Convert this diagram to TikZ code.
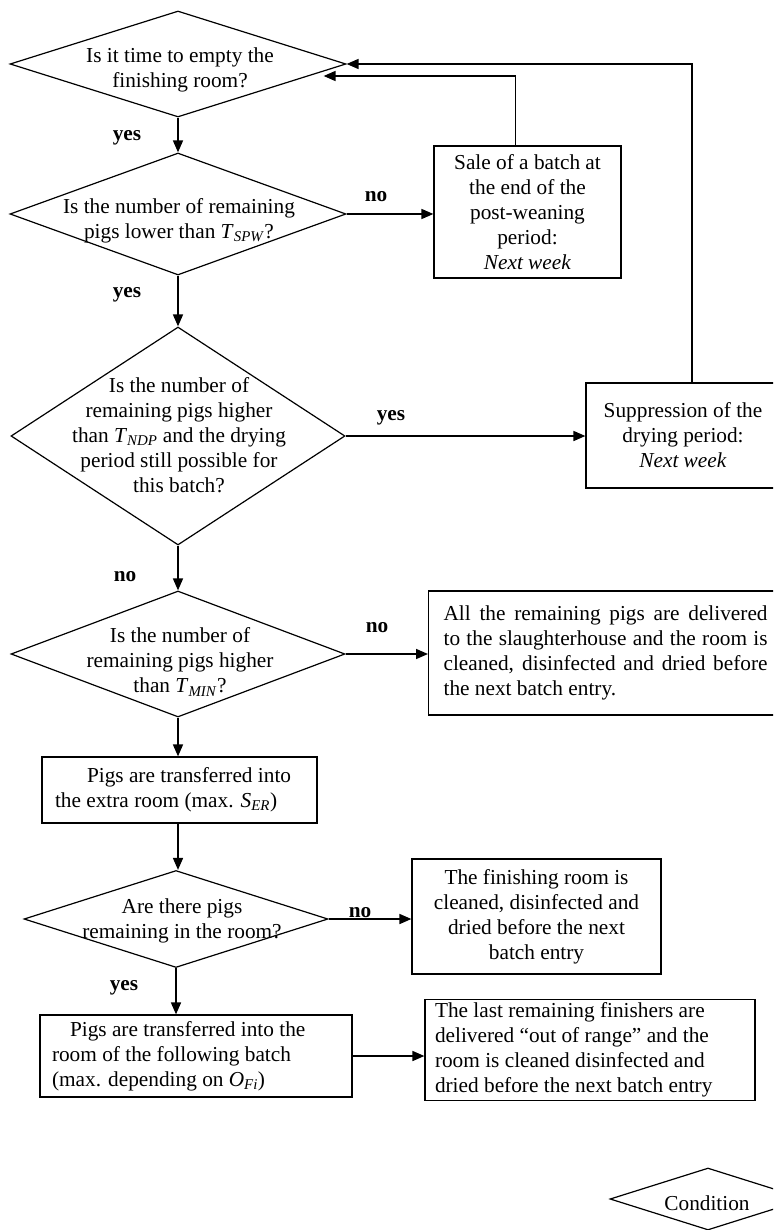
\documentclass[tikz,border=0pt]{standalone}
\usepackage{fontspec}
\setmainfont{Liberation Serif}
\usetikzlibrary{shapes.geometric,arrows.meta,calc}
\newcommand{\sbs}[2]{\textit{#1}\textsubscript{\textit{#2}}}
\begin{document}
\begin{tikzpicture}[x=1pt,y=-1pt,
  font=\fontsize{21.3}{25}\selectfont,
  dia/.style={draw, shape=diamond, inner sep=0pt, line width=1.2pt},
  box/.style={draw, rectangle, line width=1.2pt},
  txt/.style={align=center, inner sep=0pt},
  arr/.style={line width=1.6pt, -{Triangle[length=12pt,width=10pt]}},
  lbl/.style={inner sep=0pt, font=\fontsize{21.3}{25}\selectfont\bfseries}]
\useasboundingbox (0,0) rectangle (773,1230);
\clip (0,0) rectangle (773,1230);

% decisions
\node[dia, minimum width=336pt, minimum height=106pt] (d1) at (178,64) {};
\node[txt] (d1t) at (180,70) {Is it time to empty the\\finishing room?};

\node[dia, minimum width=336pt, minimum height=122pt] (d2) at (178,214) {};
\node[txt] (d2t) at (179,221) {Is the number of remaining\\pigs lower than \sbs{T}{SPW}?};

\node[dia, minimum width=334pt, minimum height=218pt] (d3) at (178,436) {};
\node[txt] (d3t) at (179,435) {Is the number of\\remaining pigs higher\\than \sbs{T}{NDP} and the drying\\period still possible for\\this batch?};

\node[dia, minimum width=334pt, minimum height=126pt] (d4) at (178,654) {};
\node[txt] (d4t) at (180,662) {Is the number of\\remaining pigs higher\\than \sbs{T}{MIN}?};

\node[dia, minimum width=304pt, minimum height=97pt] (d5) at (176,919) {};
\node[txt] (d5t) at (182,921) {Are there pigs\\remaining in the room?};

\node[dia, minimum width=196pt, minimum height=62pt] (cond) at (708,1199) {};
\node[txt] (condt) at (707,1203) {Condition};

% boxes
\node[box, minimum width=187pt, minimum height=132pt, align=center] (sale) at (527.5,212)
  {Sale of a batch at\\the end of the\\post-weaning\\period:\\\textit{Next week}};
\node[box, minimum width=194pt, minimum height=105pt, align=center] (sup) at (683,435.5)
  {Suppression of the\\drying period:\\\textit{Next week}};
\node[box, anchor=west, text width=324pt, inner xsep=15pt, minimum height=124pt, align=justify] (all) at (428,653)
  {All the remaining pigs are delivered\linebreak to the slaughterhouse and the room is\linebreak cleaned, disinfected and dried before\linebreak the next batch entry.};
\node[box, text width=249pt, inner xsep=13pt, minimum height=66pt, align=flush left] (ex) at (179.5,790)
  {\hspace*{32pt}Pigs are transferred into\\the extra room (max. \sbs{S}{ER})};
\node[box, minimum width=249pt, minimum height=115pt, align=center] (fin) at (536.5,916.5)
  {The finishing room is\\cleaned, disinfected and\\dried before the next\\batch entry};
\node[box, text width=288pt, inner xsep=12pt, minimum height=82pt, align=flush left] (fol) at (196,1056)
  {\hspace*{18pt}Pigs are transferred into the\\room of the following batch\\(max. depending on \sbs{O}{Fi})};
\node[box, text width=310pt, inner xsep=10pt, minimum height=100pt, align=flush left] (last) at (590,1050)
  {The last remaining finishers are\\delivered “out of range” and the\\room is cleaned disinfected and\\dried before the next batch entry};

% connectors
\draw[arr] (d1.south) -- (d2.north);
\node[lbl] (l1) at (127,138) {yes};
\draw[arr] (d2.east) -- (d2.east -| sale.west);
\node[lbl] (l2) at (376,197) {no};
\draw[arr] ($(sale.north)+(-12,0)$) |- ($(d1.east)+(-23,12)$);
\draw[arr] ($(sup.north)+(9,0)$) |- (d1.east);
\draw[arr] (d2.south) -- (d3.north);
\node[lbl] (l3) at (127,295) {yes};
\draw[arr] (d3.east) -- (d3.east -| sup.west);
\node[lbl] (l4) at (391,418) {yes};
\draw[arr] (d3.south) -- (d4.north);
\node[lbl] (l5) at (125,577) {no};
\draw[arr] (d4.east) -- (d4.east -| all.west);
\node[lbl] (l6) at (377,628) {no};
\draw[arr] (d4.south) -- (d4.south |- ex.north);
\draw[arr] (d4.south |- ex.south) -- (d4.south |- d5.north);
\draw[arr] (d5.east) -- (d5.east -| fin.west);
\node[lbl] (l7) at (360,913) {no};
\draw[arr] (d5.south) -- (d5.south |- fol.north);
\node[lbl] (l8) at (124,988) {yes};
\draw[arr] (fol.east) -- (fol.east -| last.west);
\end{tikzpicture}
\end{document}
